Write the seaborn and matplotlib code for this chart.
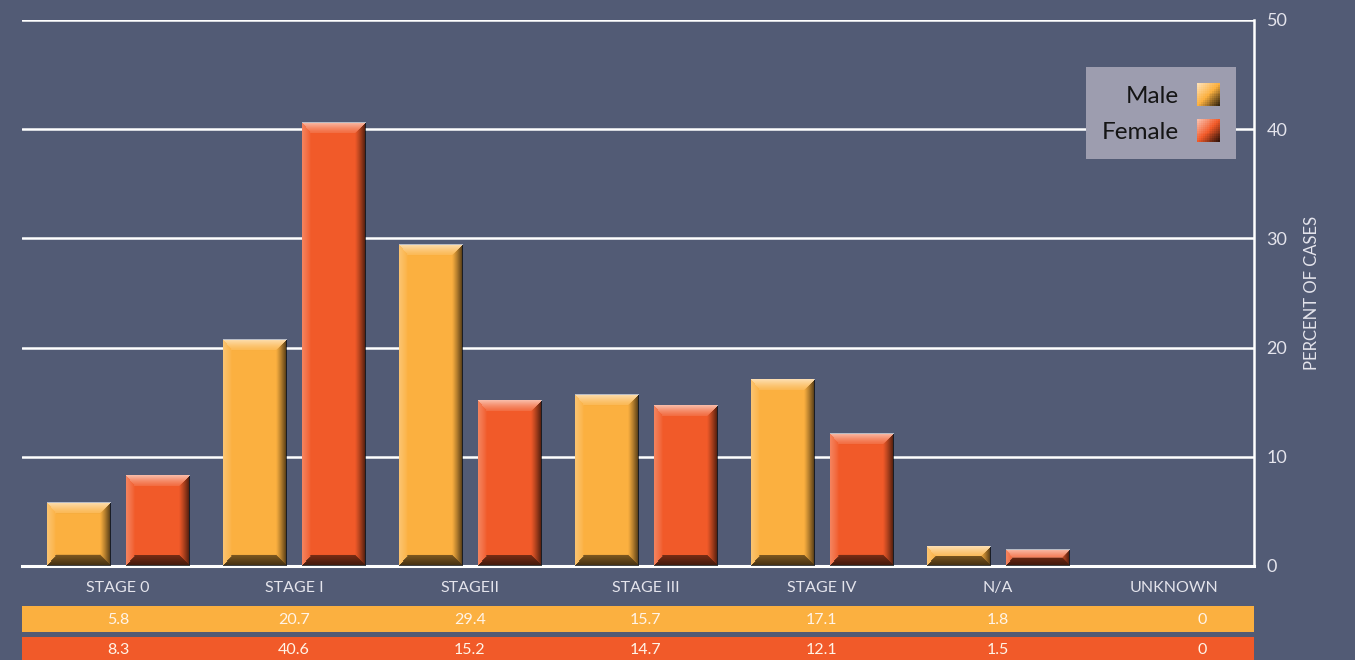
"""
Cancer stage distribution by sex: bevelled bar chart with a value table underneath.
"""

import numpy as np
import pandas as pd
import matplotlib
matplotlib.use("Agg")
import matplotlib.pyplot as plt
import matplotlib.patches as mpatches
from matplotlib.colors import to_rgb
from matplotlib.legend_handler import HandlerBase
import seaborn as sns

# data
stages = ["STAGE 0", "STAGE I", "STAGEII", "STAGE III", "STAGE IV", "N/A", "UNKNOWN"]
male_pct = [5.8, 20.7, 29.4, 15.7, 17.1, 1.8, 0]
female_pct = [8.3, 40.6, 15.2, 14.7, 12.1, 1.5, 0]
male_labels = ["5.8", "20.7", "29.4", "15.7", "17.1", "1.8", "0"]
female_labels = ["8.3", "40.6", "15.2", "14.7", "12.1", "1.5", "0"]
y_ticks = [0, 10, 20, 30, 40, 50]

BG = "#525B75"
MALE = "#FBB040"
FEMALE = "#F15A29"
TEXT = "#E4E4EC"


def bevel_image(wp, hp):
    """RGBA overlay giving a bar the raised, bevelled look."""
    yy, xx = np.mgrid[0:hp, 0:wp] + 0.5
    d = np.stack([yy, hp - yy, xx * 1.25, wp - xx])  # top, bottom, left, right
    which = d.argmin(0)
    dmin = d.min(0)
    b = 11.0
    t = np.clip(1 - dmin / b, 0, 1)
    img = np.zeros((hp, wp, 4))
    inside = dmin < b
    top = inside & (which == 0)
    bot = inside & (which == 1)
    left = inside & (which == 2)
    right = inside & (which == 3)
    img[top | left, :3] = 1.0
    img[top, 3] = 0.12 + 0.5 * t[top] ** 1.3
    img[left, 3] = 0.26 * t[left] ** 0.8
    img[bot, 3] = 0.5 + 0.25 * t[bot]
    img[right, 3] = 0.72 * t[right] ** 1.2
    return img


class GradientHandler(HandlerBase):
    """Legend swatch with a diagonal light-to-dark gradient."""

    def create_artists(self, legend, orig_handle, xdescent, ydescent,
                       width, height, fontsize, trans):
        base = np.array(to_rgb(orig_handle.get_facecolor()))
        light = base + (1 - base) * 0.6
        dark = base * 0.22
        n = 12
        side = height
        x0 = -xdescent + width - side
        y0 = -ydescent
        cell = side / n
        artists = []
        for i in range(n):
            for j in range(n):
                t = (i + (n - 1 - j)) / (2 * (n - 1))
                if t < 0.5:
                    c = light + (base - light) * (t / 0.5)
                else:
                    c = base + (dark - base) * ((t - 0.5) / 0.5)
                r = mpatches.Rectangle((x0 + i * cell, y0 + j * cell), cell * 1.05, cell * 1.05,
                                       facecolor=np.clip(c, 0, 1), linewidth=0,
                                       transform=trans)
                artists.append(r)
        return artists


sns.set_style("white", rc={"axes.facecolor": BG, "figure.facecolor": BG})
plt.rcParams["font.family"] = ["Lato", "DejaVu Sans"]

W, H = 1355, 660
fig = plt.figure(figsize=(W / 100, H / 100), dpi=100)
fig.patch.set_facecolor(BG)
ax = fig.add_axes([22 / W, (H - 566) / H, (1254 - 22) / W, (566 - 20) / H])

df = pd.DataFrame({
    "stage": stages * 2,
    "sex": ["Male"] * len(stages) + ["Female"] * len(stages),
    "pct": male_pct + female_pct,
})

sns.barplot(data=df, x="stage", y="pct", hue="sex", order=stages,
            hue_order=["Male", "Female"], palette={"Male": MALE, "Female": FEMALE},
            saturation=1, width=0.898, gap=0.2, linewidth=0, legend=False, ax=ax,
            zorder=2)

xlim = (-0.545, 6.455)
ax.set_xlim(*xlim)
ax.set_ylim(0, 50)

# bevel overlay on each bar
for p in list(ax.patches):
    x, y, w, h = p.get_x(), p.get_y(), p.get_width(), p.get_height()
    if h <= 0:
        continue
    (px0, py0), (px1, py1) = ax.transData.transform([(x, y), (x + w, y + h)])
    wp, hp = int(round(px1 - px0)), int(round(py1 - py0))
    ax.imshow(bevel_image(wp, hp), extent=(x, x + w, y, y + h), origin="upper",
              aspect="auto", zorder=3, interpolation="bilinear")
ax.set_xlim(*xlim)
ax.set_ylim(0, 50)

# grid, spines, ticks
ax.set_axisbelow(True)
ax.yaxis.grid(True, color="white", linewidth=1.8)
ax.xaxis.grid(False)
ax.yaxis.tick_right()
ax.yaxis.set_label_position("right")
ax.set_yticks(y_ticks)
ax.tick_params(axis="y", length=0, pad=9, labelsize=13, labelcolor=TEXT)
ax.tick_params(axis="x", length=0, pad=11, labelsize=11.5, labelcolor=TEXT)
for side in ["left", "top"]:
    ax.spines[side].set_visible(False)
ax.spines["right"].set_color("white")
ax.spines["right"].set_linewidth(1.8)
ax.spines["bottom"].set_color("white")
ax.spines["bottom"].set_linewidth(2.2)
ax.set_xlabel("")
ax.set_ylabel("PERCENT OF CASES", color=TEXT, fontsize=12, labelpad=12)

handles = [mpatches.Patch(facecolor=MALE, label="Male"),
           mpatches.Patch(facecolor=FEMALE, label="Female")]
leg = ax.legend(handles=handles, loc="upper right", bbox_to_anchor=(0.9854, 0.9139),
                borderaxespad=0, markerfirst=False, fontsize=17.5, frameon=True,
                fancybox=False, framealpha=1, facecolor="#9D9DAF", edgecolor="none",
                handlelength=1.1, handleheight=1.1, handletextpad=0.6,
                labelspacing=0.5, borderpad=0.65,
                handler_map={mpatches.Patch: GradientHandler()})
for t in leg.get_texts():
    t.set_color("#151515")
leg.set_zorder(5)

# value table under the axis
tab = fig.add_axes([22 / W, 0, (1254 - 22) / W, (H - 606) / H])
tab.set_xlim(*xlim)
tab.set_ylim(54, 0)
tab.axis("off")
tab.axhspan(0, 26, color=MALE, linewidth=0)
tab.axhspan(31, 57, color=FEMALE, linewidth=0)
for i in range(len(stages)):
    xi = i + 0.16 if i == len(stages) - 1 else i
    tab.text(xi, 13.5, male_labels[i], ha="center", va="center", fontsize=11.5, color="#FFF4E8")
    tab.text(xi, 44.5, female_labels[i], ha="center", va="center", fontsize=11.5, color="#FFF4E8")

fig.savefig("out.png", dpi=100, facecolor=BG)
